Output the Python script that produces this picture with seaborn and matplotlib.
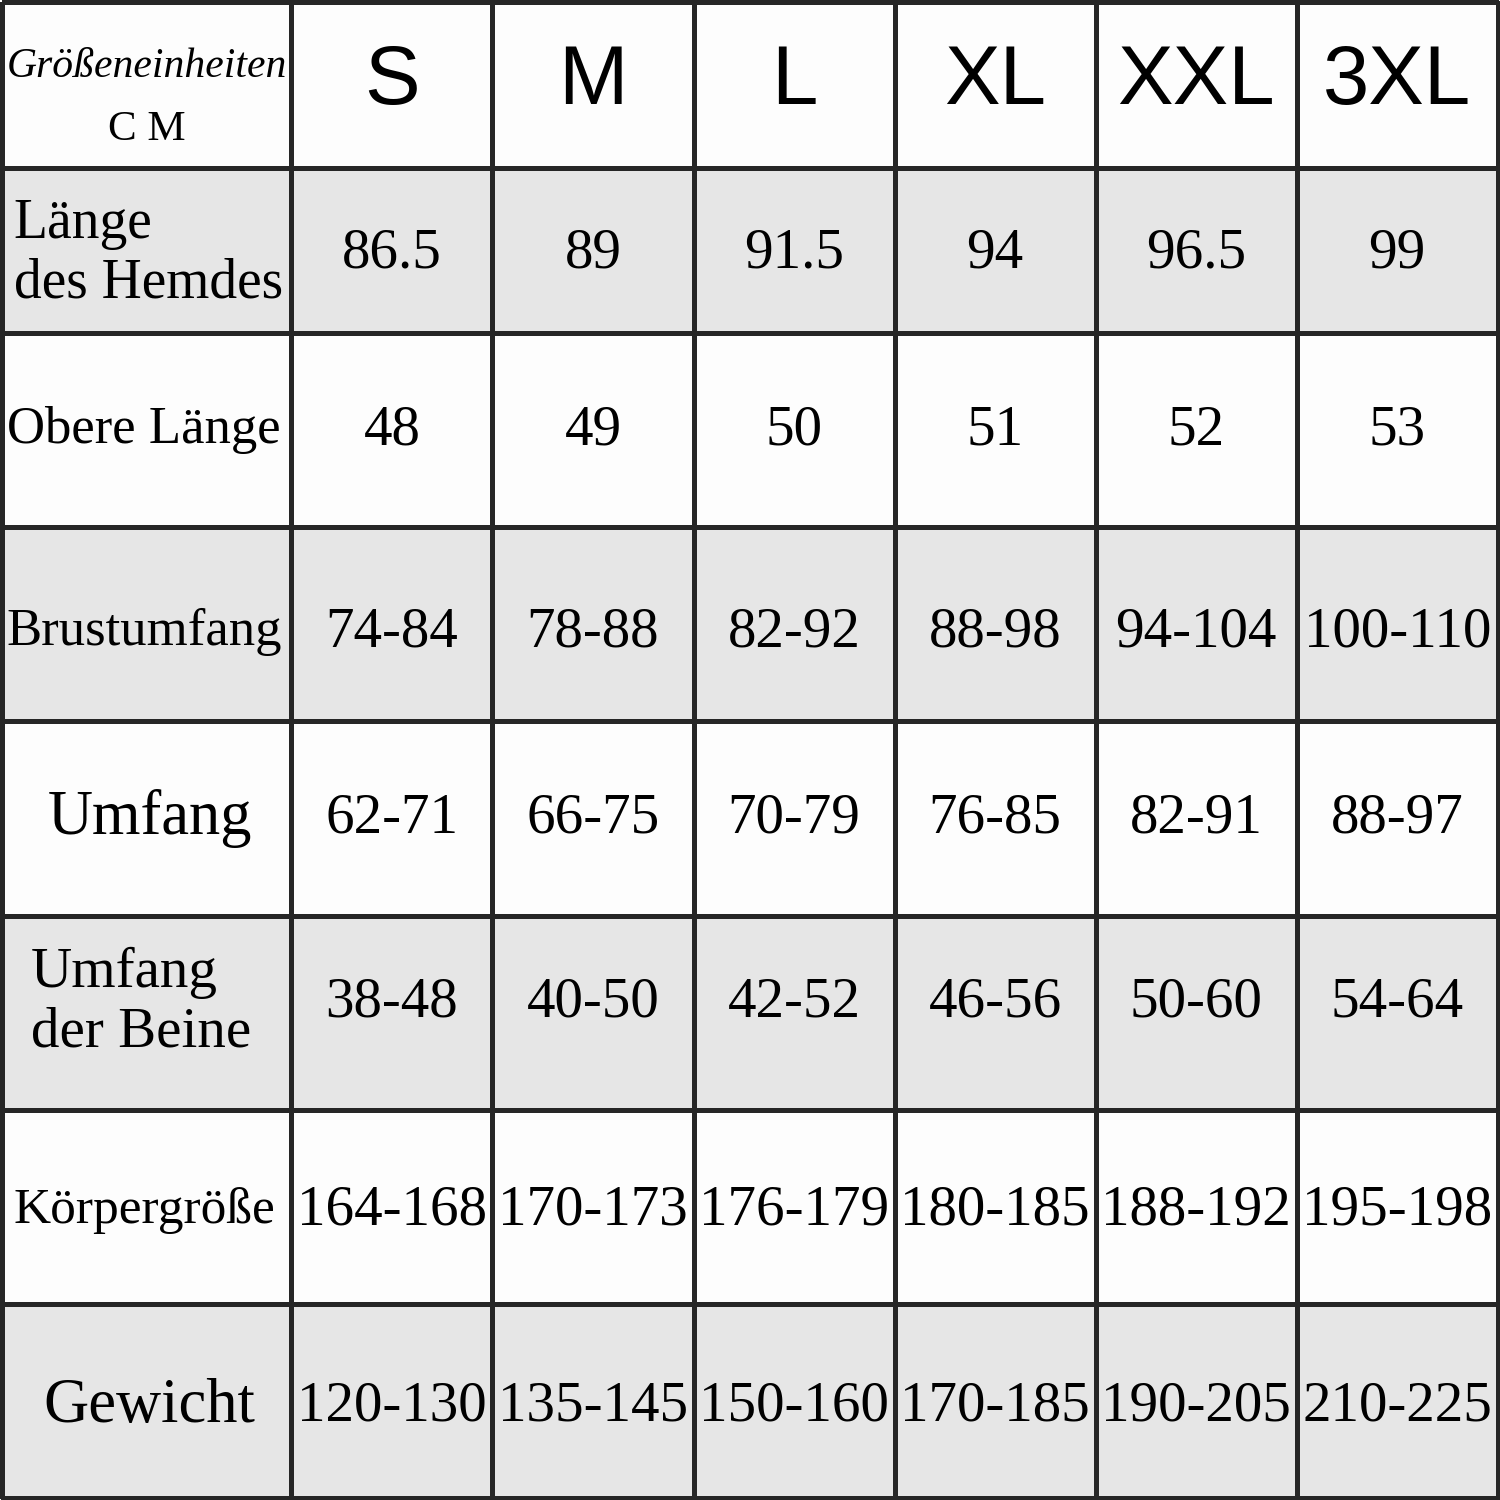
"""Größentabelle (Hemd / Hose) als seaborn-Heatmap nachgebaut."""

import matplotlib
matplotlib.use("Agg")
import matplotlib.pyplot as plt
import numpy as np
import seaborn as sns
from matplotlib.colors import ListedColormap


SIZES = ["S", "M", "L", "XL", "XXL", "3XL"]

ROW_LABELS = [
    "Länge\ndes Hemdes", "Obere Länge", "Brustumfang", "Umfang",
    "Umfang\nder Beine", "Körpergröße", "Gewicht",
]
SHIRT_LENGTH = ["86.5", "89", "91.5", "94", "96.5", "99"]
UPPER_LENGTH = ["48", "49", "50", "51", "52", "53"]
CHEST = ["74-84", "78-88", "82-92", "88-98", "94-104", "100-110"]
WAIST = ["62-71", "66-75", "70-79", "76-85", "82-91", "88-97"]
LEG = ["38-48", "40-50", "42-52", "46-56", "50-60", "54-64"]
BODY_HEIGHT = ["164-168", "170-173", "176-179", "180-185", "188-192", "195-198"]
WEIGHT = ["120-130", "135-145", "150-160", "170-185", "190-205", "210-225"]

VALUES = [SHIRT_LENGTH, UPPER_LENGTH, CHEST, WAIST, LEG, BODY_HEIGHT, WEIGHT]

# Beschriftungsstil der ersten Spalte: (ha, x in Zellbreite, Schriftgröße)
LABEL_STYLE = {
    "Länge\ndes Hemdes": ("left", 0.04, 40),
    "Obere Länge": ("center", 0.49, 38),
    "Brustumfang": ("center", 0.49, 38),
    "Umfang": ("center", 0.51, 45),
    "Umfang\nder Beine": ("left", 0.10, 41),
    "Körpergröße": ("center", 0.49, 37),
    "Gewicht": ("center", 0.51, 45),
}
# kleine vertikale Korrektur je Zeile (in Zeilenhöhen)
ROW_SHIFT = [0.02, 0.0, 0.04, 0.0, -0.05, 0.02, 0.03]

WHITE = "#fdfdfd"
GRAY = "#e6e6e6"
LINE = "#262626"

sns.set_theme(style="white")
plt.rcParams["font.family"] = ["Liberation Serif", "DejaVu Serif"]
plt.rcParams["text.color"] = "black"

fig = plt.figure(figsize=(15, 15), dpi=100)
gs = fig.add_gridspec(
    2, 2, width_ratios=[290, 1210], height_ratios=[332, 1168],
    left=0.0015, right=0.9985, bottom=0.0015, top=0.9985,
    wspace=0, hspace=0,
)

# Zeile 0 = Kopfzeile, danach die sieben Maßzeilen
n_rows = 1 + len(ROW_LABELS)
shade = np.array([i % 2 for i in range(n_rows)], dtype=float)
cmap = ListedColormap([WHITE, GRAY])

blocks = [(0, slice(0, 2)), (1, slice(2, n_rows))]
for gi, rows in blocks:
    row_ids = list(range(n_rows))[rows]
    ax_lab = fig.add_subplot(gs[gi, 0])
    ax_val = fig.add_subplot(gs[gi, 1])
    for ax, ncol in ((ax_lab, 1), (ax_val, len(SIZES))):
        mat = np.repeat(shade[rows][:, None], ncol, axis=1)
        sns.heatmap(mat, ax=ax, cmap=cmap, vmin=0, vmax=1, cbar=False,
                    linewidths=2.2, linecolor=LINE,
                    xticklabels=False, yticklabels=False)
        ax.collections[0].set_clip_on(False)
        ax.set_xlabel("")
        ax.set_ylabel("")

    for j, r in enumerate(row_ids):
        y = j + 0.5
        if r == 0:
            ax_lab.text(0.5, y - 0.11, "Größeneinheiten", ha="center",
                        va="center", fontsize=30, fontstyle="italic")
            ax_lab.text(0.5, y + 0.27, "C M", ha="center", va="center",
                        fontsize=31)
            for k, s in enumerate(SIZES):
                ax_val.text(k + 0.5, y - 0.02, s, ha="center", va="center",
                            fontsize=60, family=["Liberation Sans", "DejaVu Sans"])
            continue
        y += ROW_SHIFT[r - 1]
        label = ROW_LABELS[r - 1]
        ha, x, fs = LABEL_STYLE[label]
        ax_lab.text(x, y, label, ha=ha, va="center", fontsize=fs,
                    multialignment="left", linespacing=1.2)
        for k, v in enumerate(VALUES[r - 1]):
            ax_val.text(k + 0.5, y, v, ha="center", va="center", fontsize=41)

fig.savefig("out.png", dpi=100, facecolor="white")
